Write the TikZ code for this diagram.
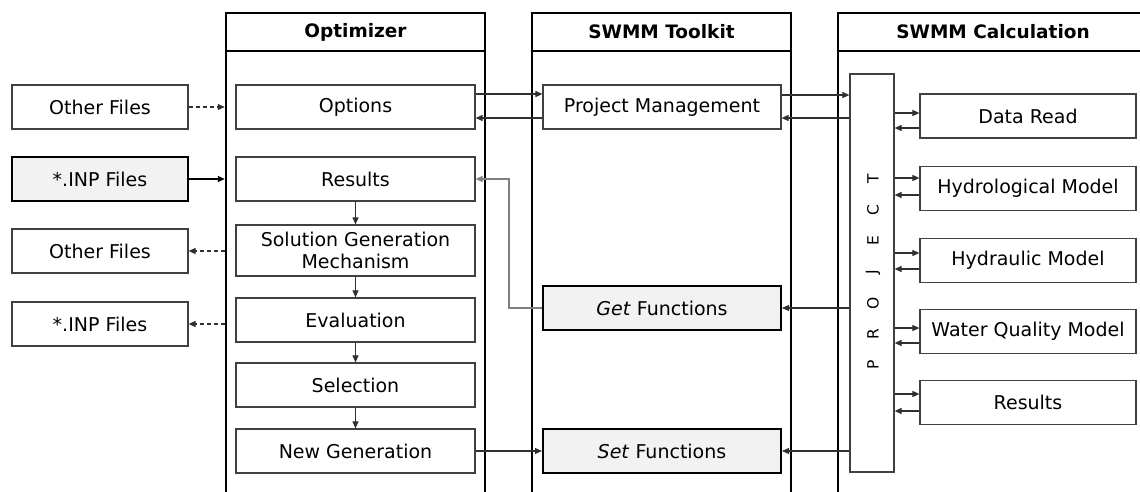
\documentclass[tikz,border=0pt]{standalone}
\usepackage{fontspec}
\setmainfont{DejaVu Sans}
\usetikzlibrary{arrows.meta}
\definecolor{boxc}{HTML}{404040}
\definecolor{linec}{HTML}{303030}
\definecolor{gfill}{HTML}{F2F2F2}
\definecolor{conngray}{HTML}{7F7F7F}
\newcommand\myfs{\fontsize{19}{23}\selectfont}
\newcommand\myhfs{\fontsize{18.5}{22.5}\selectfont\bfseries}
\newcommand\mypfs{\fontsize{15.5}{18}\selectfont}
\begin{document}
\begin{tikzpicture}[x=1pt,y=-1pt,
  box/.style={draw=boxc, line width=1.2pt, fill=white, minimum height=44pt, inner sep=0pt, font=\myfs, align=center},
  gbox/.style={box, draw=black, line width=2pt, fill=gfill},
  col/.style={draw=black, line width=2.4pt, inner sep=0pt},
  hdr/.style={font=\myhfs, inner sep=0pt},
  arr/.style={-{Triangle[length=7pt,width=6pt]}, line width=1.1pt, draw=linec},
  darr/.style={arr, dashed, dash pattern=on 4pt off 3pt},
]
\useasboundingbox (0,0) rectangle (1140,491);
\clip (0,0) rectangle (1140,491);
% columns
\node[col, minimum width=259pt, minimum height=560pt] (optcol) at (355.5,293) {};
\node[col, minimum width=259pt, minimum height=560pt] (tkcol) at (661.5,293) {};
\node[col, minimum width=310pt, minimum height=560pt] (calccol) at (993,293) {};
\draw[line width=2.4pt] (optcol.west |- 0,51) -- (optcol.east |- 0,51);
\draw[line width=2.4pt] (tkcol.west |- 0,51) -- (tkcol.east |- 0,51);
\draw[line width=2.4pt] (calccol.west |- 0,51) -- (calccol.east |- 0,51);
\node[hdr] (h1) at (355.5,32) {Optimizer};
\node[hdr] (h2) at (661.5,32) {SWMM Toolkit};
\node[hdr] (h3) at (993,32) {SWMM Calculation};
% left files
\node[box, minimum width=176pt] (of1) at (100,107) {Other Files};
\node[gbox, minimum width=176pt] (inp1) at (100,179) {*.INP Files};
\node[box, minimum width=176pt] (of2) at (100,251) {Other Files};
\node[box, minimum width=176pt] (inp2) at (100,324) {*.INP Files};
% optimizer
\node[box, minimum width=239pt] (opt) at (355.5,107) {Options};
\node[box, minimum width=239pt] (res) at (355.5,179) {Results};
\node[box, minimum width=239pt, minimum height=51pt] (sgm) at (355.5,250.5) {Solution Generation\\[-1pt]Mechanism};
\node[box, minimum width=239pt] (eval) at (355.5,320) {Evaluation};
\node[box, minimum width=239pt] (sel) at (355.5,385) {Selection};
\node[box, minimum width=239pt] (newg) at (355.5,451) {New Generation};
% toolkit
\node[box, minimum width=238pt] (pm) at (662,107) {Project Management};
\node[gbox, minimum width=238pt] (get) at (662,308) {\textit{Get} Functions};
\node[gbox, minimum width=238pt] (set) at (662,451) {\textit{Set} Functions};
% calculation
\node[box, minimum width=44pt, minimum height=398pt] (proj) at (872,273) {};
\foreach \l [count=\i] in {P,R,O,J,E,C,T}
  \node[rotate=90, font=\mypfs, inner sep=0pt] (pl\i) at (873,365-31*\i+31) {\l};
\node[box, minimum width=216pt] (dr) at (1028,116) {Data Read};
\node[box, minimum width=216pt] (hyd) at (1028,188.5) {Hydrological Model};
\node[box, minimum width=216pt] (hyr) at (1028,260.5) {Hydraulic Model};
\node[box, minimum width=216pt] (wq) at (1028,331.5) {Water Quality Model};
\node[box, minimum width=216pt] (cres) at (1028,402.5) {Results};
% connectors
\draw[darr] (of1.east) -- (optcol.west |- of1.east);
\draw[arr, draw=black, line width=2pt] (inp1.east) -- (optcol.west |- inp1.east);
\draw[darr] (optcol.west |- of2.east) -- (of2.east);
\draw[darr] (optcol.west |- inp2.east) -- (inp2.east);
\draw[arr] (res) -- (sgm);
\draw[arr] (sgm) -- (eval);
\draw[arr] (eval) -- (sel);
\draw[arr] (sel) -- (newg);
\draw[arr] (opt.east |- 0,94) -- (pm.west |- 0,94);
\draw[arr] (pm.west |- 0,118) -- (opt.east |- 0,118);
\draw[arr] (pm.east |- 0,95) -- (proj.west |- 0,95);
\draw[arr] (proj.west |- 0,118) -- (pm.east |- 0,118);
\foreach \b/\ya/\yb in {dr/113/128, hyd/178/195, hyr/253/269, wq/328/343, cres/394/411} {
  \draw[arr] (proj.east |- 0,\ya) -- (\b.west |- 0,\ya);
  \draw[arr] (\b.west |- 0,\yb) -- (proj.east |- 0,\yb);
}
\draw[arr] (proj.west |- get.east) -- (get.east);
\draw[arr] (proj.west |- set.east) -- (set.east);
\draw[arr] (newg.east) -- (set.west);
\draw[arr, draw=conngray] (get.west) -- ++(-33,0) |- (res.east);
\end{tikzpicture}
\end{document}
